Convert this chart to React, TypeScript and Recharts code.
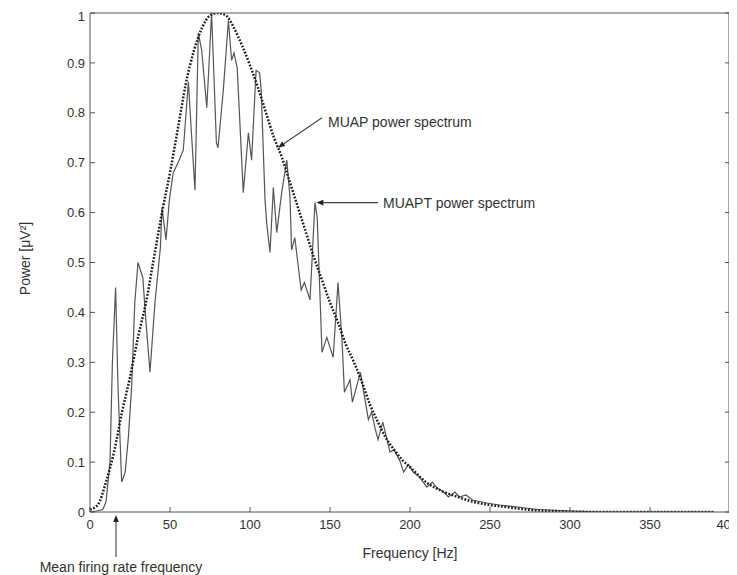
import React from 'react';
import { LineChart, Line, XAxis, YAxis, ReferenceLine, Label } from 'recharts';

// MUAP power spectrum (smooth, dotted)
const muapFreq = [0, 5, 10, 15, 20, 25, 30, 35, 40, 45, 50, 55, 60, 65, 70, 75, 80, 85, 90, 95, 100, 105, 110, 115, 120, 125, 130, 135, 140, 145, 150, 155, 160, 165, 170, 175, 180, 185, 190, 195, 200, 210, 220, 230, 240, 250, 260, 270, 280, 290, 300, 320, 350, 390];
const muapPower = [0.005, 0.015, 0.06, 0.12, 0.2, 0.27, 0.35, 0.42, 0.51, 0.6, 0.68, 0.77, 0.86, 0.925, 0.97, 0.995, 1.0, 0.995, 0.97, 0.935, 0.895, 0.85, 0.8, 0.75, 0.71, 0.66, 0.61, 0.56, 0.51, 0.465, 0.42, 0.38, 0.335, 0.3, 0.26, 0.215, 0.18, 0.148, 0.125, 0.105, 0.09, 0.06, 0.042, 0.03, 0.02, 0.014, 0.01, 0.006, 0.003, 0.002, 0.001, 0, 0, 0];

// MUAPT power spectrum (noisy, solid)
const muaptFreq = [0, 4, 8, 10, 12.5, 14, 16, 17.5, 19.8, 22, 24, 26, 28, 30, 33, 35, 37.5, 40.6, 44, 45, 47.5, 49.6, 52, 55, 58.3, 61.5, 63, 65.6, 67.7, 69.8, 73, 76, 79, 80, 83.3, 86.5, 88.5, 90, 92, 95.8, 99, 101, 103.8, 106, 107, 109.4, 110.4, 112.5, 114.6, 116.7, 119.8, 123, 125, 126, 128, 131, 132, 134, 137.5, 140.6, 142, 145, 148, 151, 152, 155, 157.5, 159, 162.5, 164, 169, 174, 176, 178, 180, 183, 187.5, 190, 194, 196, 199, 202, 206, 210.5, 214, 217, 221, 224, 228, 231, 235, 239, 248, 256, 267, 280, 300, 320, 390];
const muaptPower = [0, 0.002, 0.005, 0.02, 0.1, 0.3, 0.45, 0.25, 0.06, 0.08, 0.15, 0.25, 0.42, 0.5, 0.47, 0.38, 0.28, 0.42, 0.53, 0.61, 0.545, 0.625, 0.68, 0.7, 0.725, 0.862, 0.78, 0.645, 0.96, 0.925, 0.81, 1.0, 0.74, 0.73, 0.845, 0.985, 0.905, 0.92, 0.89, 0.64, 0.76, 0.705, 0.885, 0.88, 0.845, 0.625, 0.58, 0.52, 0.65, 0.56, 0.64, 0.705, 0.63, 0.525, 0.55, 0.47, 0.445, 0.46, 0.425, 0.62, 0.59, 0.32, 0.35, 0.32, 0.31, 0.46, 0.345, 0.24, 0.265, 0.22, 0.28, 0.185, 0.2, 0.17, 0.145, 0.18, 0.12, 0.125, 0.1, 0.08, 0.095, 0.08, 0.07, 0.05, 0.06, 0.048, 0.04, 0.03, 0.04, 0.03, 0.034, 0.024, 0.018, 0.014, 0.01, 0.005, 0.002, 0, 0];

const xTicks = [0, 50, 100, 150, 200, 250, 300, 350, 400];
const yTicks = [0, 0.1, 0.2, 0.3, 0.4, 0.5, 0.6, 0.7, 0.8, 0.9, 1];

// annotations: [startFreq, startPower, endFreq, endPower]
const muapArrow = [145, 0.79, 117.5, 0.73];
const muaptArrow = [180, 0.62, 141.5, 0.62];
const firingArrow = [16.25, -0.09, 16.25, -0.006];

const muapData = muapFreq.map((f, i) => ({ f, p: muapPower[i] }));
const muaptData = muaptFreq.map((f, i) => ({ f, p: muaptPower[i] }));

const FONT = '"Liberation Sans", Arial, Helvetica, sans-serif';
const AXIS = '#555';
const TEXT = '#333';

function makeArrow(text: string, dx: number, dy: number, anchor: string) {
  return (props: any) => {
    const { x1, y1, x2, y2 } = props;
    const ang = Math.atan2(y2 - y1, x2 - x1);
    const L = 7;
    const W = 2.8;
    const bx = x2 - L * Math.cos(ang);
    const by = y2 - L * Math.sin(ang);
    const px = -Math.sin(ang) * W;
    const py = Math.cos(ang) * W;
    return (
      <g>
        <line x1={x1} y1={y1} x2={bx} y2={by} stroke="#444" strokeWidth={1.1} />
        <polygon
          points={`${x2},${y2} ${bx + px},${by + py} ${bx - px},${by - py}`}
          fill="#222"
        />
        <text
          x={x1 + dx}
          y={y1 + dy}
          fontFamily={FONT}
          fontSize={14}
          fill={TEXT}
          textAnchor={anchor}
          dominantBaseline="central"
        >
          {text}
        </text>
      </g>
    );
  };
}

// right-hand frame with inward ticks, drawn from the y-axis scale
function rightFrame(props: any) {
  const { x1, y1, y2 } = props;
  const top = Math.min(y1, y2);
  const bottom = Math.max(y1, y2);
  const marks = yTicks.map((t) => bottom - (bottom - top) * t);
  return (
    <g>
      <path d={`M${x1 - 1.5},${top - 0.5}h2v${bottom - top + 1}h-2z`} fill={AXIS} />
      {marks.map((y, i) => (
        <line key={i} x1={x1 - 5} y1={y} x2={x1} y2={y} stroke={AXIS} strokeWidth={1} />
      ))}
    </g>
  );
}

export default function App() {
  return (
    <div style={{ width: 729, height: 567 }}>
      <LineChart width={729} height={567} margin={{ top: 4, right: 7, left: 0, bottom: 13 }}>
        <XAxis
          dataKey="f"
          type="number"
          domain={[0, 400]}
          ticks={xTicks}
          allowDataOverflow
          height={50}
          tickSize={-5}
          tickMargin={13}
          stroke={AXIS}
          tick={{ fill: TEXT, fontSize: 13, fontFamily: FONT }}
        >
          <Label
            value="Frequency [Hz]"
            position="insideBottom"
            offset={4}
            style={{ fill: TEXT, fontSize: 14, fontFamily: FONT }}
          />
        </XAxis>
        <XAxis
          xAxisId="top"
          orientation="top"
          dataKey="f"
          type="number"
          domain={[0, 400]}
          ticks={xTicks}
          height={1}
          tickSize={-5}
          tickFormatter={() => ''}
          stroke={AXIS}
        />
        <YAxis
          dataKey="p"
          type="number"
          domain={[0, 1]}
          ticks={yTicks}
          allowDataOverflow
          width={82}
          tickSize={-5}
          tickMargin={10}
          stroke={AXIS}
          tickFormatter={(v: number) => String(v)}
          tick={{ fill: TEXT, fontSize: 13, fontFamily: FONT }}
        >
          <Label
            value="Power [μV²]"
            angle={-90}
            position="insideLeft"
            offset={17}
            dy={-4}
            style={{ fill: TEXT, fontSize: 14, fontFamily: FONT, textAnchor: 'middle' }}
          />
        </YAxis>
        <Line
          data={muaptData}
          dataKey="p"
          type="linear"
          stroke="#555"
          strokeWidth={1.2}
          dot={false}
          isAnimationActive={false}
        />
        <Line
          data={muapData}
          dataKey="p"
          type="monotone"
          stroke="#1e1e1e"
          strokeWidth={2.5}
          strokeDasharray="1.8 1.6"
          dot={false}
          isAnimationActive={false}
        />
        <ReferenceLine
          segment={[{ x: 400, y: 0 }, { x: 400, y: 1 }]}
          ifOverflow="visible"
          shape={rightFrame}
        />
        <ReferenceLine
          segment={[{ x: muapArrow[0], y: muapArrow[1] }, { x: muapArrow[2], y: muapArrow[3] }]}
          ifOverflow="visible"
          shape={makeArrow('MUAP power spectrum', 6, 4, 'start')}
        />
        <ReferenceLine
          segment={[{ x: muaptArrow[0], y: muaptArrow[1] }, { x: muaptArrow[2], y: muaptArrow[3] }]}
          ifOverflow="visible"
          shape={makeArrow('MUAPT power spectrum', 5, 0, 'start')}
        />
        <ReferenceLine
          segment={[{ x: firingArrow[0], y: firingArrow[1] }, { x: firingArrow[2], y: firingArrow[3] }]}
          ifOverflow="visible"
          shape={makeArrow('Mean firing rate frequency', 5, 10, 'middle')}
        />
      </LineChart>
    </div>
  );
}
